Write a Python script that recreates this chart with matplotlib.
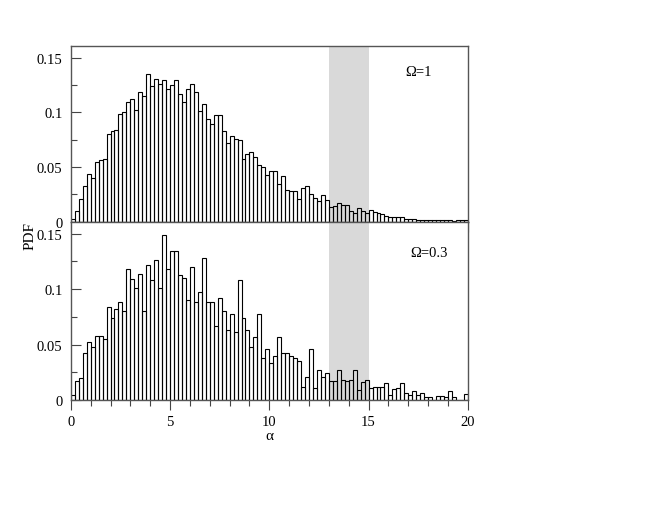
import numpy as np
import matplotlib
matplotlib.use("Agg")
import matplotlib.pyplot as plt
from matplotlib.ticker import MultipleLocator, FuncFormatter

plt.rcParams['font.family'] = ['Liberation Serif', 'DejaVu Serif']

# --- dados: histogramas (PDF) em 100 bins de largura 0.2, de 0 a 20 ---
bin_edges = np.linspace(0, 20, 101)

pdf_omega1 = [
    0.002, 0.0095, 0.021, 0.033, 0.044, 0.040, 0.055, 0.056, 0.057, 0.080,
    0.083, 0.084, 0.099, 0.100, 0.110, 0.112, 0.102, 0.119, 0.115, 0.135,
    0.124, 0.131, 0.126, 0.130, 0.122, 0.125, 0.130, 0.117, 0.110, 0.122,
    0.126, 0.119, 0.101, 0.108, 0.094, 0.089, 0.098, 0.098, 0.083, 0.072,
    0.078, 0.076, 0.075, 0.057, 0.062, 0.064, 0.059, 0.052, 0.050, 0.043,
    0.046, 0.046, 0.034, 0.042, 0.029, 0.028, 0.028, 0.021, 0.031, 0.033,
    0.025, 0.022, 0.019, 0.024, 0.020, 0.013, 0.014, 0.017, 0.015, 0.015,
    0.010, 0.008, 0.012, 0.010, 0.008, 0.011, 0.009, 0.0075, 0.007, 0.005,
    0.004, 0.004, 0.0045, 0.004, 0.0025, 0.0025, 0.002, 0.0015, 0.0015, 0.001,
    0.0012, 0.0012, 0.001, 0.0015, 0.001, 0.001, 0.0005, 0.0015, 0.001, 0.0015,
]

pdf_omega03 = [
    0.0045, 0.017, 0.020, 0.042, 0.052, 0.048, 0.058, 0.058, 0.055, 0.084,
    0.074, 0.082, 0.088, 0.080, 0.118, 0.109, 0.101, 0.114, 0.080, 0.122,
    0.108, 0.126, 0.101, 0.149, 0.118, 0.134, 0.134, 0.113, 0.110, 0.090,
    0.120, 0.088, 0.097, 0.128, 0.088, 0.088, 0.067, 0.092, 0.080, 0.063,
    0.078, 0.061, 0.108, 0.074, 0.063, 0.048, 0.057, 0.078, 0.038, 0.046,
    0.033, 0.040, 0.057, 0.042, 0.042, 0.040, 0.038, 0.035, 0.012, 0.021,
    0.046, 0.011, 0.027, 0.021, 0.024, 0.017, 0.017, 0.027, 0.018, 0.017,
    0.018, 0.027, 0.009, 0.016, 0.018, 0.011, 0.012, 0.012, 0.012, 0.015,
    0.0045, 0.010, 0.011, 0.015, 0.0067, 0.0045, 0.0085, 0.0045, 0.0067, 0.0024,
    0.0024, 0.0, 0.004, 0.004, 0.0024, 0.0085, 0.0024, 0.0, 0.0, 0.005,
]

panel_labels = ["Ω=1", "Ω=0.3"]
shade_range = (13, 15)

# --- figura ---
fig = plt.figure(figsize=(6.6, 5.1), dpi=100)
ax_top = fig.add_axes([0.1073, 1 - 222.5 / 510, 0.6015, 175.5 / 510])
ax_bot = fig.add_axes([0.1073, 1 - 401 / 510, 0.6015, 178.5 / 510])

fmt = FuncFormatter(lambda v, p: "0" if abs(v) < 1e-9 else f"{v:g}")

# posição (fração dos eixos) de cada rótulo Ω
label_pos = [(0.875, 0.852), (0.9025, 0.829)]

for ax, vals, label, (lx, ly) in [(ax_top, pdf_omega1, panel_labels[0], label_pos[0]),
                                  (ax_bot, pdf_omega03, panel_labels[1], label_pos[1])]:
    ax.axvspan(*shade_range, color='#d9d9d9', lw=0, zorder=0)
    ax.bar(bin_edges[:-1], vals, width=np.diff(bin_edges), align='edge',
           fill=False, edgecolor='black', linewidth=0.8, zorder=2)
    ax.set_xlim(0, 20)
    ax.set_ylim(0, 0.161)
    ax.xaxis.set_major_locator(MultipleLocator(5))
    ax.xaxis.set_minor_locator(MultipleLocator(1))
    ax.yaxis.set_major_locator(MultipleLocator(0.05))
    ax.yaxis.set_minor_locator(MultipleLocator(0.025))
    ax.yaxis.set_major_formatter(fmt)
    ax.tick_params(axis='x', which='major', direction='out', length=7, width=0.8,
                   labelsize=10.5, color='#444444')
    ax.tick_params(axis='x', which='minor', direction='out', length=4, width=0.8,
                   color='#444444')
    ax.tick_params(axis='y', which='major', direction='in', length=7, width=0.8,
                   labelsize=10.5, pad=6, color='#444444')
    ax.tick_params(axis='y', which='minor', direction='in', length=4, width=0.8,
                   color='#444444')
    for s in ax.spines.values():
        s.set_color('#555555')
        s.set_linewidth(1.0)
    ax.text(lx, ly, label, transform=ax.transAxes, ha='center', va='center',
            fontsize=10.5)

ax_top.tick_params(axis='x', labelbottom=False)
ax_bot.set_xlabel("α", fontsize=11, labelpad=1)
fig.text(30 / 660, 1 - 236 / 510, "PDF", rotation=90, ha='center', va='center',
         fontsize=11)

fig.savefig("out.png", dpi=100)
